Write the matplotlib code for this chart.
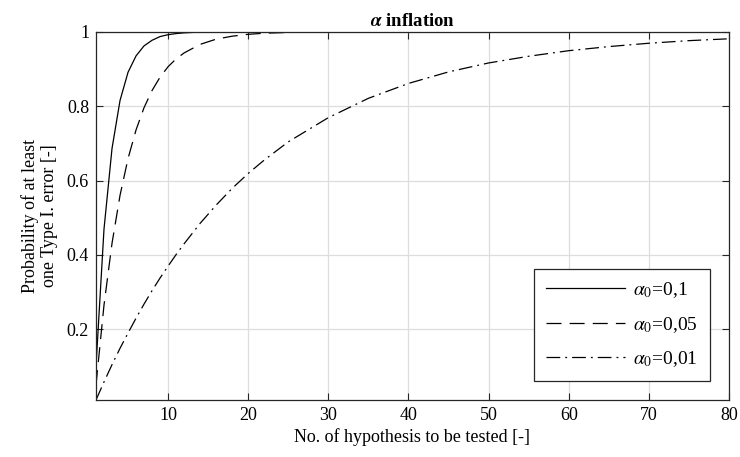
import matplotlib
matplotlib.use('Agg')
import matplotlib.pyplot as plt

# число гипотез и вероятности
n = [1, 2, 3, 4, 5, 6, 7, 8, 9, 10, 11, 12, 14, 16, 18, 20, 22, 25,
     30, 35, 40, 45, 50, 55, 60, 65, 70, 75, 80]
p_01 = [0.100, 0.469, 0.686, 0.815, 0.891, 0.935, 0.962, 0.977, 0.987, 0.992,
        0.995, 0.997, 0.999, 0.9997, 0.9999, 1.0, 1.0, 1.0,
        1.0, 1.0, 1.0, 1.0, 1.0, 1.0, 1.0, 1.0, 1.0, 1.0, 1.0]
p_005 = [0.050, 0.265, 0.431, 0.560, 0.659, 0.736, 0.796, 0.842, 0.878, 0.906,
         0.927, 0.943, 0.966, 0.980, 0.988, 0.993, 0.996, 0.998,
         0.9994, 0.9998, 1.0, 1.0, 1.0, 1.0, 1.0, 1.0, 1.0, 1.0, 1.0]
p_001 = [0.010, 0.0585, 0.105, 0.149, 0.190, 0.230, 0.268, 0.304, 0.338, 0.370,
         0.401, 0.430, 0.485, 0.534, 0.579, 0.619, 0.655, 0.704,
         0.769, 0.821, 0.861, 0.892, 0.916, 0.934, 0.949, 0.960, 0.969, 0.976, 0.981]
labels = [r'$\alpha_0$=0,1', r'$\alpha_0$=0,05', r'$\alpha_0$=0,01']
x_ticks = [10, 20, 30, 40, 50, 60, 70, 80]
y_ticks = [0.2, 0.4, 0.6, 0.8, 1]
y_tick_labels = ['0.2', '0.4', '0.6', '0.8', '1']

plt.rcParams['font.family'] = ['Liberation Serif', 'DejaVu Serif']
plt.rcParams['mathtext.fontset'] = 'stix'
plt.rcParams['font.size'] = 13

fig = plt.figure(figsize=(7.4, 4.57), dpi=100)
ax = fig.add_axes([0.1297, 0.1247, 0.8554, 0.8059])

ax.plot(n, p_01, color='black', linestyle='-', linewidth=0.9, label=labels[0])
ax.plot(n, p_005, color='black', linestyle=(0, (12, 6.5)), linewidth=0.9, label=labels[1])
ax.plot(n, p_001, color='black', linestyle=(0, (11, 4, 1.5, 4)), linewidth=0.9, label=labels[2])

ax.set_xlim(1, 80)
ax.set_ylim(0.01, 1)
ax.set_xticks(x_ticks)
ax.set_yticks(y_ticks)
ax.set_yticklabels(y_tick_labels)
ax.grid(True, color='#dddddd', linewidth=0.9)
ax.set_axisbelow(True)
ax.tick_params(direction='in', top=True, right=True, length=5, width=0.8,
               color='#262626', labelsize=13, pad=5)
for s in ax.spines.values():
    s.set_linewidth(0.9)
    s.set_color('#262626')

ax.set_xlabel('No. of hypothesis to be tested [-]', fontsize=13, labelpad=3)
ax.set_ylabel('Probability of at least\none Type I. error [-]', fontsize=13, labelpad=6)
ax.set_title(r'$\boldsymbol{\alpha}$ inflation', fontsize=13.5, fontweight='bold', pad=4)

leg = ax.legend(loc='lower right', fontsize=14, handlelength=4.1, handletextpad=0.4,
                labelspacing=0.75, borderpad=0.6, fancybox=False, framealpha=1,
                edgecolor='#262626', borderaxespad=1.0)
leg.get_frame().set_linewidth(0.9)

plt.savefig('out.png', dpi=100)
